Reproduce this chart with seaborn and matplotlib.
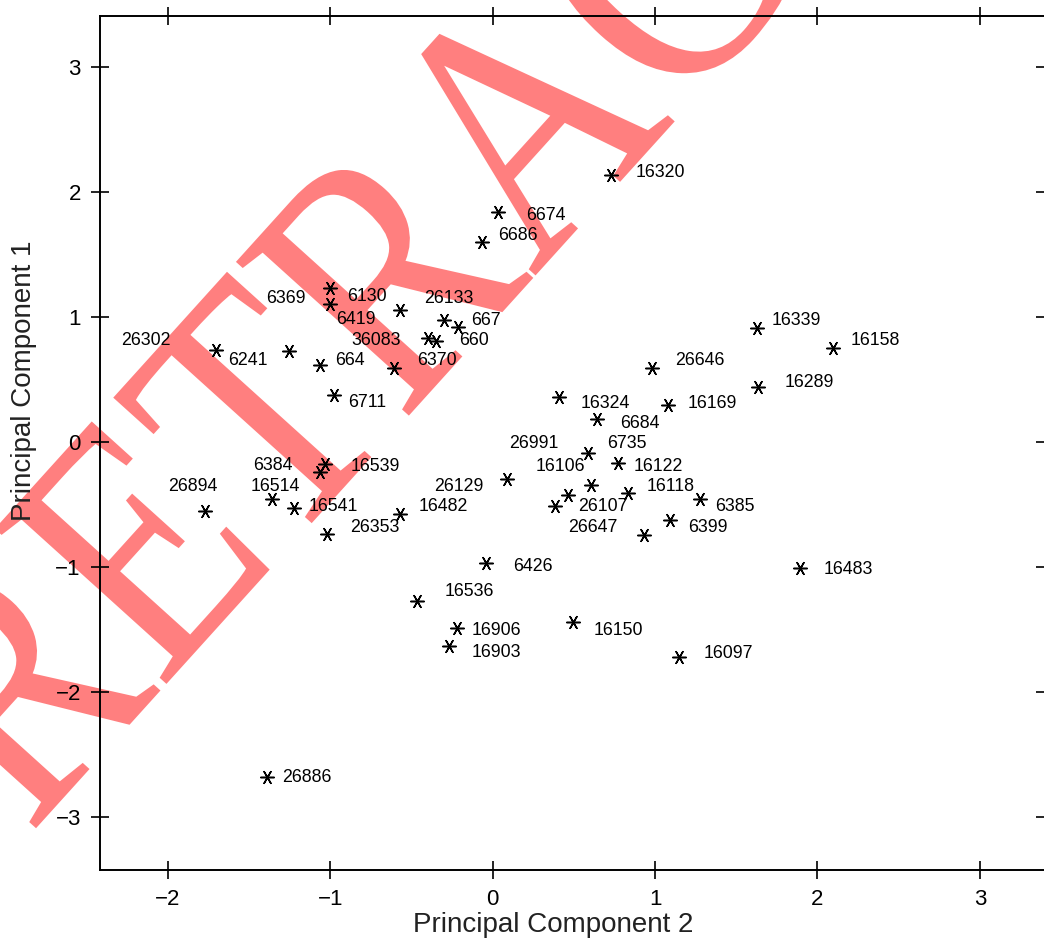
import matplotlib
matplotlib.use("Agg")
import matplotlib.pyplot as plt
import seaborn as sns
import pandas as pd
from matplotlib.patheffects import AbstractPathEffect
from matplotlib.transforms import Affine2D

# ---- data ----
sample_ids = ["16320", "6674", "6686", "6130", "6369", "6419", "26133", "667",
              "36083", "660", "26302", "6241", "664", "6370", "6711",
              "16339", "16158", "26646", "16289", "16324", "16169", "6684",
              "6735", "16122", "26129", "16106", "26107", "16118", "6385",
              "26991", "6399", "26647",
              "16539", "6384", "16514", "26894", "16541", "16482", "26353",
              "6426", "16536", "16906", "16903", "16150", "16097", "16483", "26886"]
pc2 = [0.729, 0.036, -0.065, -0.998, -0.998, -0.567, -0.300, -0.215,
       -0.400, -0.347, -1.704, -1.255, -1.060, -0.608, -0.975,
       1.626, 2.098, 0.980, 1.636, 0.411, 1.082, 0.641,
       0.589, 0.774, 0.087, 0.604, 0.466, 0.836, 1.277,
       0.384, 1.092, 0.934,
       -1.032, -1.063, -1.360, -1.771, -1.223, -0.570, -1.022,
       -0.041, -0.464, -0.221, -0.267, 0.497, 1.150, 1.893, -1.390]
pc1 = [2.134, 1.841, 1.596, 1.228, 1.106, 1.053, 0.971, 0.922,
       0.832, 0.808, 0.738, 0.726, 0.616, 0.587, 0.371,
       0.908, 0.748, 0.588, 0.436, 0.361, 0.294, 0.180,
       -0.092, -0.167, -0.300, -0.346, -0.426, -0.412, -0.460,
       -0.514, -0.626, -0.746,
       -0.178, -0.242, -0.460, -0.551, -0.532, -0.578, -0.738,
       -0.967, -1.271, -1.492, -1.634, -1.439, -1.724, -1.010, -2.684]
label_x = [1.031, 0.329, 0.158, -0.772, -1.272, -0.841, -0.268, -0.041,
           -0.718, -0.115, -2.134, -1.504, -0.878, -0.342, -0.772,
           1.868, 2.355, 1.277, 1.950, 0.692, 1.355, 0.908,
           0.826, 1.020, -0.211, 0.415, 0.682, 1.097, 1.493,
           0.251, 1.328, 0.620,
           -0.724, -1.350, -1.340, -1.843, -0.981, -0.304, -0.724,
           0.247, -0.143, 0.025, 0.025, 0.774, 1.451, 2.188, -1.145]
label_y = [2.153, 1.814, 1.654, 1.161, 1.148, 0.980, 1.148, 0.974,
           0.814, 0.814, 0.814, 0.654, 0.654, 0.654, 0.313,
           0.974, 0.814, 0.649, 0.473, 0.308, 0.308, 0.148,
           -0.012, -0.194, -0.358, -0.194, -0.514, -0.358, -0.514,
           -0.012, -0.684, -0.684,
           -0.199, -0.186, -0.359, -0.359, -0.514, -0.519, -0.684,
           -0.999, -1.199, -1.511, -1.687, -1.511, -1.692, -1.018, -2.684]

x_ticks = [-2, -1, 0, 1, 2, 3]
y_ticks = [-3, -2, -1, 0, 1, 2, 3]
x_title = "Principal Component 2"
y_title = "Principal Component 1"
watermark = "RETRACTED"


class GlyphStretch(AbstractPathEffect):
    """Make the glyphs taller (perpendicular to the baseline) without
    changing the letter advances."""

    def __init__(self, k):
        super().__init__()
        self.k = k

    def draw_path(self, renderer, gc, tpath, affine, rgbFace=None):
        renderer.draw_path(gc, tpath, Affine2D().scale(1.0, self.k) + affine, rgbFace)


# ---- style ----
sns.set_style("ticks")
plt.rcParams["font.family"] = ["Liberation Sans", "DejaVu Sans"]

W, H = 1044, 943
fig = plt.figure(figsize=(W / 100, H / 100), dpi=100)
fig.patch.set_facecolor("white")

# watermark behind everything
fig.text(29.1 / W, 1 - 835.9 / H, watermark, fontsize=212, family="Liberation Serif",
         color="#FF7F7F", rotation=47.9, rotation_mode="anchor",
         ha="left", va="baseline", zorder=-5,
         path_effects=[GlyphStretch(1.2)])

ax = fig.add_axes([100 / W, 1 - 869.5 / H, (1045 - 100) / W, (869.5 - 15.5) / H])
ax.set_facecolor("none")

df = pd.DataFrame({"pc2": pc2, "pc1": pc1, "id": sample_ids,
                   "lx": label_x, "ly": label_y})

sns.scatterplot(data=df, x="pc2", y="pc1", marker=(6, 2, 90), s=95,
                color="black", linewidth=1.1, ax=ax, zorder=3, legend=False)

for _, r in df.iterrows():
    ax.text(r["lx"], r["ly"], r["id"], ha="center", va="center",
            fontsize=12.8, color="black", zorder=4)

ax.set_xlim(-2.417, 3.401)
ax.set_ylim(-3.42, 3.41)
ax.set_xticks(x_ticks)
ax.set_yticks(y_ticks)
ax.tick_params(direction="inout", length=13.5, width=1.2, colors="black",
               top=True, right=True, labeltop=False, labelright=False,
               labelsize=16, pad=7)
for sp in ax.spines.values():
    sp.set_visible(True)
    sp.set_linewidth(1.4)
    sp.set_color("black")

ax.set_xlabel(x_title, fontsize=20, color="#222222")
ax.set_ylabel(y_title, fontsize=20, color="#222222")
ax.xaxis.label.set_va("center")
ax.yaxis.label.set_va("center")
ax.xaxis.set_label_coords(0.480, -0.065)
ax.yaxis.set_label_coords(-0.0804, 0.572)

fig.savefig("out.png", dpi=100)
